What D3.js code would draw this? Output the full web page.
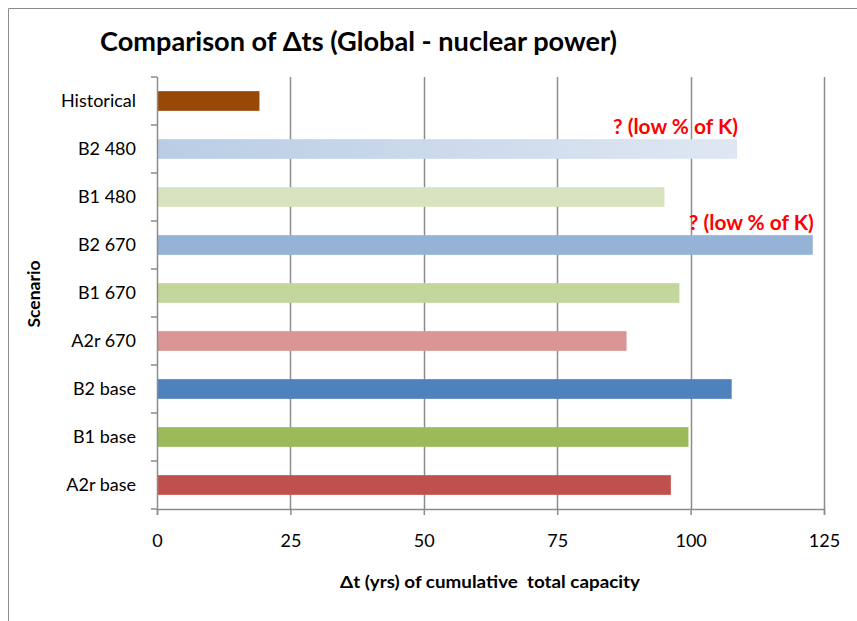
<!doctype html>
<html lang="en">
<head>
<meta charset="utf-8" />
<title>Comparison of Δts</title>
<script src="https://d3js.org/d3.v7.min.js"></script>
<style>
  body { margin: 0; background: #fff; }
  text { font-family: Lato, "Open Sans", sans-serif; }
</style>
</head>
<body>
<script>
// scenarios, top to bottom
const scenarios = ["Historical", "B2 480", "B1 480", "B2 670", "B1 670", "A2r 670", "B2 base", "B1 base", "A2r base"];
const deltaT = [19.2, 108.7, 95.1, 122.9, 97.9, 88.0, 107.7, 99.6, 96.3];
const barColors = ["#984807", "url(#fadeBlue)", "#d7e4bd", "#95b3d7", "#c3d69b", "#d99694", "#4f81bd", "#9bbb59", "#c0504d"];
const xTicks = [0, 25, 50, 75, 100, 125];
const notes = [
  { scenario: "B2 480", text: "? (low % of K)" },
  { scenario: "B2 670", text: "? (low % of K)" }
];

let width = 857, height = 621;

const svg = d3.select("body").append("svg")
    .attr("width", width)
    .attr("height", height);

const grad = svg.append("defs").append("linearGradient")
    .attr("id", "fadeBlue")
    .attr("x1", "0%").attr("x2", "100%");
grad.append("stop").attr("offset", "0%").attr("stop-color", "#b9cde5");
grad.append("stop").attr("offset", "100%").attr("stop-color", "#dfe7f3");

// chart border (only top and left visible)
svg.append("path")
    .attr("d", "M8.5,630 V8.5 H860")
    .attr("fill", "none")
    .attr("stroke", "#8c8c8c")
    .attr("stroke-width", 1);

svg.append("text")
    .attr("x", 100)
    .attr("y", 51)
    .attr("font-size", 27)
    .attr("font-weight", "bold")
    .attr("textLength", 517)
    .attr("lengthAdjust", "spacingAndGlyphs")
    .text("Comparison of Δts (Global - nuclear power)");

let plot = { left: 157, right: 824, top: 77, bottom: 509 };

let x = d3.scaleLinear()
    .domain([0, 125])
    .range([plot.left, plot.right]);

let y = d3.scaleBand()
    .domain(scenarios)
    .range([plot.top, plot.bottom])
    .paddingInner(0.59)
    .paddingOuter(0.295);

let yOuter = d3.scaleBand()
    .domain(scenarios)
    .range([plot.top, plot.bottom]);

// vertical gridlines
svg.append("g")
    .selectAll("line")
    .data(xTicks.slice(1))
    .enter()
    .append("line")
        .attr("x1", d => Math.round(x(d)) + 0.5)
        .attr("x2", d => Math.round(x(d)) + 0.5)
        .attr("y1", plot.top)
        .attr("y2", plot.bottom)
        .attr("stroke", "#8c8c8c")
        .attr("stroke-width", 1.5);

// bars
svg.append("g")
    .selectAll("rect")
    .data(scenarios)
    .enter()
    .append("rect")
        .attr("x", x(0))
        .attr("y", d => y(d))
        .attr("width", (d, i) => x(deltaT[i]) - x(0))
        .attr("height", y.bandwidth())
        .attr("fill", (d, i) => barColors[i]);

// x axis
let xAxis = svg.append("g")
    .attr("transform", `translate(0,${plot.bottom})`)
    .call(d3.axisBottom(x).tickValues(xTicks).tickSize(6).tickPadding(19));
xAxis.select(".domain").attr("stroke", "#8c8c8c").attr("stroke-width", 1.5);
xAxis.selectAll(".tick line").attr("stroke", "#8c8c8c").attr("stroke-width", 1.5);
xAxis.selectAll(".tick text")
    .attr("font-family", "Lato, sans-serif")
    .attr("font-size", 18)
    .attr("fill", "#000");

// y axis: ticks between categories
let yAxisG = svg.append("g");
yAxisG.append("line")
    .attr("x1", plot.left + 0.5).attr("x2", plot.left + 0.5)
    .attr("y1", plot.top).attr("y2", plot.bottom)
    .attr("stroke", "#8c8c8c").attr("stroke-width", 1.5);
yAxisG.selectAll("line.tk")
    .data(scenarios.concat(["end"]))
    .enter()
    .append("line")
        .attr("class", "tk")
        .attr("x1", plot.left - 6).attr("x2", plot.left)
        .attr("y1", (d, i) => plot.top + i * yOuter.step())
        .attr("y2", (d, i) => plot.top + i * yOuter.step())
        .attr("stroke", "#8c8c8c").attr("stroke-width", 1.5);
yAxisG.selectAll("text")
    .data(scenarios)
    .enter()
    .append("text")
        .attr("x", 136)
        .attr("y", d => yOuter(d) + yOuter.bandwidth() / 2)
        .attr("dy", "0.35em")
        .attr("text-anchor", "end")
        .attr("font-size", 18)
        .text(d => d);

// axis titles
svg.append("text")
    .attr("x", 490)
    .attr("y", 588)
    .attr("text-anchor", "middle")
    .attr("font-size", 17)
    .attr("font-weight", "bold")
    .attr("textLength", 300)
    .attr("lengthAdjust", "spacingAndGlyphs")
    .style("white-space", "pre")
    .text("Δt (yrs) of cumulative  total capacity");

svg.append("text")
    .attr("transform", "translate(40,294) rotate(-90)")
    .attr("text-anchor", "middle")
    .attr("font-size", 17.5)
    .attr("font-weight", "bold")
    .text("Scenario");

// annotations
svg.append("g")
    .selectAll("text")
    .data(notes)
    .enter()
    .append("text")
        .attr("x", d => x(deltaT[scenarios.indexOf(d.scenario)]) + 1)
        .attr("y", d => y(d.scenario) - 5)
        .attr("text-anchor", "end")
        .attr("font-size", 20)
        .attr("font-weight", "bold")
        .attr("fill", "#ff0000")
        .attr("textLength", 125)
        .attr("lengthAdjust", "spacingAndGlyphs")
        .text(d => d.text);
</script>
</body>
</html>
